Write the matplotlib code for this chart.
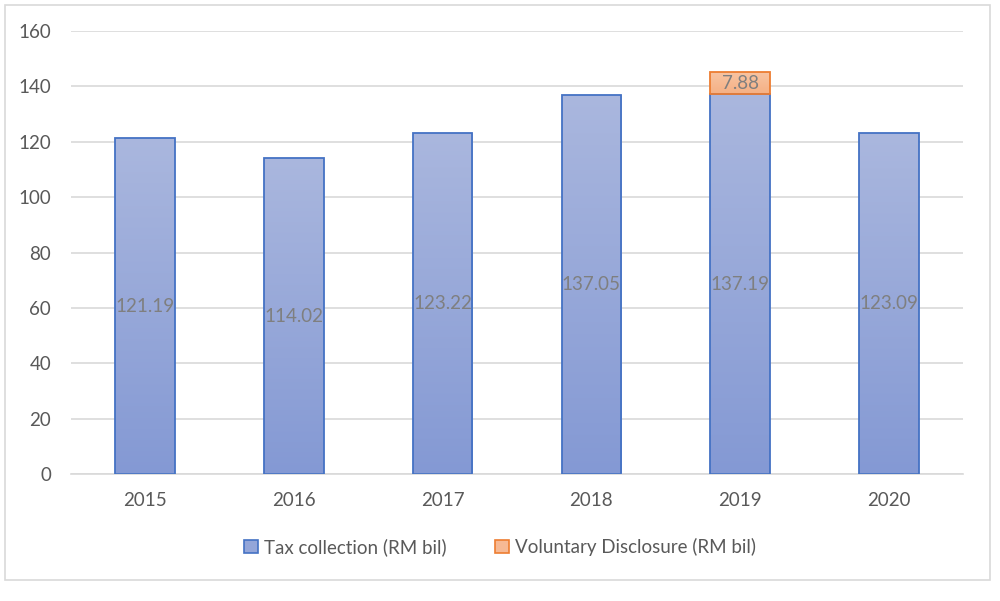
import matplotlib
matplotlib.use("Agg")
import matplotlib.pyplot as plt
import numpy as np
from matplotlib.patches import Rectangle, Patch
from matplotlib.colors import LinearSegmentedColormap

years = ["2015", "2016", "2017", "2018", "2019", "2020"]
tax = [121.19, 114.02, 123.22, 137.05, 137.19, 123.09]
vd = [0, 0, 0, 0, 7.88, 0]
yticks = [0, 20, 40, 60, 80, 100, 120, 140, 160]

plt.rcParams['font.family'] = ['Lato', 'DejaVu Sans']

fig = plt.figure(figsize=(10, 6.01), dpi=100)
ax = fig.add_axes([0.0706, 0.2113, 0.8928, 0.7371])

# outer border
fig.patches.append(Rectangle((0.005, 0.035), 0.985, 0.957, transform=fig.transFigure,
                             fill=False, edgecolor='#d9d9d9', lw=1.2))

x = np.arange(len(years))
w = 0.4
blue_cmap = LinearSegmentedColormap.from_list('b', ['#8499d4', '#aab7de'])
orange_cmap = LinearSegmentedColormap.from_list('o', ['#f5b084', '#f8c4a2'])
grad = np.linspace(0, 1, 256).reshape(-1, 1)

bars = ax.bar(x, tax, w, facecolor='none', edgecolor='#4472c4', lw=1.3, zorder=3)
for b in bars:
    bx, by = b.get_x(), b.get_y()
    im = ax.imshow(grad, cmap=blue_cmap, origin='lower', aspect='auto',
                   extent=[bx, bx + b.get_width(), by, by + b.get_height()], zorder=2)
    im.set_clip_path(b)
vx = [xi for xi, v in zip(x, vd) if v > 0]
vv = [v for v in vd if v > 0]
vb = [t for t, v in zip(tax, vd) if v > 0]
bars2 = ax.bar(vx, vv, w, bottom=vb, facecolor='none', edgecolor='#ed7d31', lw=1.3, zorder=3)
for b in bars2:
    bx, by = b.get_x(), b.get_y()
    im = ax.imshow(grad, cmap=orange_cmap, origin='lower', aspect='auto',
                   extent=[bx, bx + b.get_width(), by, by + b.get_height()], zorder=2)
    im.set_clip_path(b)

for xi, t, v in zip(x, tax, vd):
    ax.text(xi, t / 2, f"{t:.2f}", ha='center', va='center', color='#7f7f7f',
            fontsize=13.5, zorder=4)
    if v > 0:
        ax.text(xi, t + v / 2, f"{v:.2f}", ha='center', va='center', color='#7f7f7f',
                fontsize=13.5, zorder=4)

ax.set_xlim(-0.5, len(years) - 0.5)
ax.set_ylim(0, 160)
ax.set_yticks(yticks)
ax.set_xticks(x)
ax.set_xticklabels(years)
ax.grid(axis='y', color='#d9d9d9', lw=1.2, zorder=0)
ax.set_axisbelow(True)
for s in ['top', 'right', 'left']:
    ax.spines[s].set_visible(False)
ax.spines['bottom'].set_color('#d9d9d9')
ax.spines['bottom'].set_linewidth(1.2)
ax.tick_params(axis='both', length=0, labelsize=13.5, colors='#595959')
ax.tick_params(axis='x', pad=13)
ax.tick_params(axis='y', pad=14)

handles = [Patch(facecolor='#94a6d9', edgecolor='#4472c4', lw=1.2),
           Patch(facecolor='#f6b994', edgecolor='#ed7d31', lw=1.2)]
fig.legend(handles, ["Tax collection (RM bil)", "Voluntary Disclosure (RM bil)"],
           loc='center', bbox_to_anchor=(0.5, 0.09), ncol=2, frameon=False,
           fontsize=13.5, labelcolor='#595959', handlelength=0.75, handleheight=0.75,
           handletextpad=0.3, columnspacing=2.6)

fig.savefig("out.png", dpi=100)
